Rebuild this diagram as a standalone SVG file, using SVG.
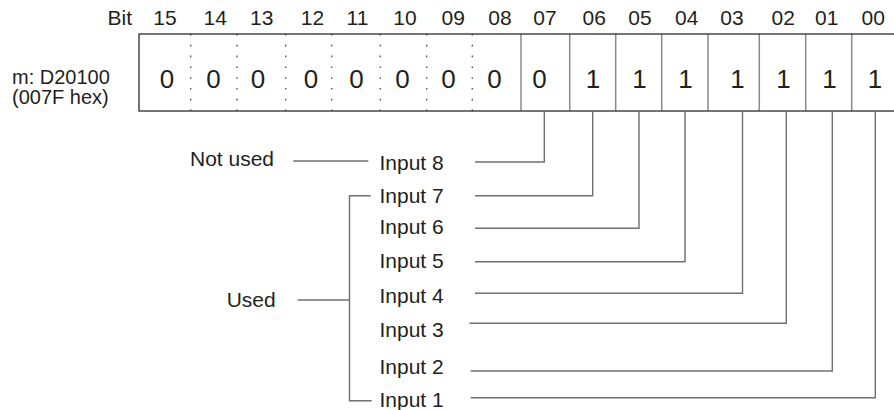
<svg xmlns="http://www.w3.org/2000/svg" width="894" height="410" viewBox="0 0 894 410">
<style>
text{font-family:"Liberation Sans",Arial,Helvetica,sans-serif;fill:#231f20}
.lbl{font-size:21px}
.reg{font-size:20px}
.hdr{font-size:21px;text-anchor:middle}
.dig{font-size:26px;text-anchor:middle}
.edge{fill:none;stroke:#2b2b2b;stroke-width:1.3}
.div{stroke:#8a8a8a;stroke-width:1.5}
.dot{stroke:#555;stroke-width:1.4;stroke-dasharray:1.6 9.2}
.con{fill:none;stroke:#707070;stroke-width:1.4}
</style>
<rect width="894" height="410" fill="#fff"/>
<g id="header">
<text class="lbl" x="132" y="25" text-anchor="end">Bit</text>
<text class="hdr" x="165" y="25">15</text>
<text class="hdr" x="215.3" y="25">14</text>
<text class="hdr" x="261.7" y="25">13</text>
<text class="hdr" x="312.5" y="25">12</text>
<text class="hdr" x="357.5" y="25">11</text>
<text class="hdr" x="405" y="25">10</text>
<text class="hdr" x="453.3" y="25">09</text>
<text class="hdr" x="500" y="25">08</text>
<text class="hdr" x="545" y="25">07</text>
<text class="hdr" x="594.3" y="25">06</text>
<text class="hdr" x="640" y="25">05</text>
<text class="hdr" x="686.7" y="25">04</text>
<text class="hdr" x="732" y="25">03</text>
<text class="hdr" x="783.3" y="25">02</text>
<text class="hdr" x="826.7" y="25">01</text>
<text class="hdr" x="873.3" y="25">00</text>
</g>
<g id="register-label">
<text class="reg" x="12" y="83.5">m: D20100</text>
<text class="reg" x="12" y="104">(007F hex)</text>
</g>
<g id="register">
<line class="dot" x1="190.7" y1="34" x2="190.7" y2="111"/>
<line class="dot" x1="237" y1="34" x2="237" y2="111"/>
<line class="dot" x1="285.7" y1="34" x2="285.7" y2="111"/>
<line class="dot" x1="331.7" y1="34" x2="331.7" y2="111"/>
<line class="dot" x1="380.3" y1="34" x2="380.3" y2="111"/>
<line class="dot" x1="426.7" y1="34" x2="426.7" y2="111"/>
<line class="dot" x1="472.3" y1="34" x2="472.3" y2="111"/>
<line class="div" x1="521" y1="34" x2="521" y2="111"/>
<line class="div" x1="569.7" y1="34" x2="569.7" y2="111"/>
<line class="div" x1="615.7" y1="34" x2="615.7" y2="111"/>
<line class="div" x1="661.7" y1="34" x2="661.7" y2="111"/>
<line class="div" x1="708" y1="34" x2="708" y2="111"/>
<line class="div" x1="759.3" y1="34" x2="759.3" y2="111"/>
<line class="div" x1="805.7" y1="34" x2="805.7" y2="111"/>
<line class="div" x1="851.7" y1="34" x2="851.7" y2="111"/>
<rect class="edge" x="139" y="34" width="762" height="77"/>
<text class="dig" x="167" y="87.5">0</text>
<text class="dig" x="213.5" y="87.5">0</text>
<text class="dig" x="258" y="87.5">0</text>
<text class="dig" x="311" y="87.5">0</text>
<text class="dig" x="356.5" y="87.5">0</text>
<text class="dig" x="402.5" y="87.5">0</text>
<text class="dig" x="448.5" y="87.5">0</text>
<text class="dig" x="494.5" y="87.5">0</text>
<text class="dig" x="539.5" y="87.5">0</text>
<text class="dig" x="593" y="87.5">1</text>
<text class="dig" x="639.5" y="87.5">1</text>
<text class="dig" x="685.5" y="87.5">1</text>
<text class="dig" x="737.5" y="87.5">1</text>
<text class="dig" x="783.5" y="87.5">1</text>
<text class="dig" x="829.5" y="87.5">1</text>
<text class="dig" x="875" y="87.5">1</text>
</g>
<g id="not-used"><text class="lbl" x="190" y="165.5">Not used</text></g>
<g id="used"><text class="lbl" x="226.7" y="306.7">Used</text></g>
<g id="input8"><text class="lbl" x="379.5" y="170">Input 8</text></g>
<g id="input7"><text class="lbl" x="379.5" y="203">Input 7</text></g>
<g id="input6"><text class="lbl" x="379.5" y="234">Input 6</text></g>
<g id="input5"><text class="lbl" x="379.5" y="268.3">Input 5</text></g>
<g id="input4"><text class="lbl" x="379.5" y="303">Input 4</text></g>
<g id="input3"><text class="lbl" x="379.5" y="337">Input 3</text></g>
<g id="input2"><text class="lbl" x="379.5" y="374">Input 2</text></g>
<g id="input1"><text class="lbl" x="379.5" y="407">Input 1</text></g>
<g id="connectors">
<path class="con" d="M544.3 111V162H475"/>
<path class="con" d="M592.7 111V195.7H475"/>
<path class="con" d="M639 111V228.3H475"/>
<path class="con" d="M685 111V261.7H475"/>
<path class="con" d="M742.5 111V293.3H475"/>
<path class="con" d="M786.3 111V323.3H469.5"/>
<path class="con" d="M832.3 111V371H470.7"/>
<path class="con" d="M875.3 111V397.7H470.7"/>
<path class="con" d="M293.3 161H368.3"/>
<path class="con" d="M297.7 300H349.5"/>
<path class="con" d="M370.7 195.7H349.5V400.7H371.7"/>
</g>
</svg>
